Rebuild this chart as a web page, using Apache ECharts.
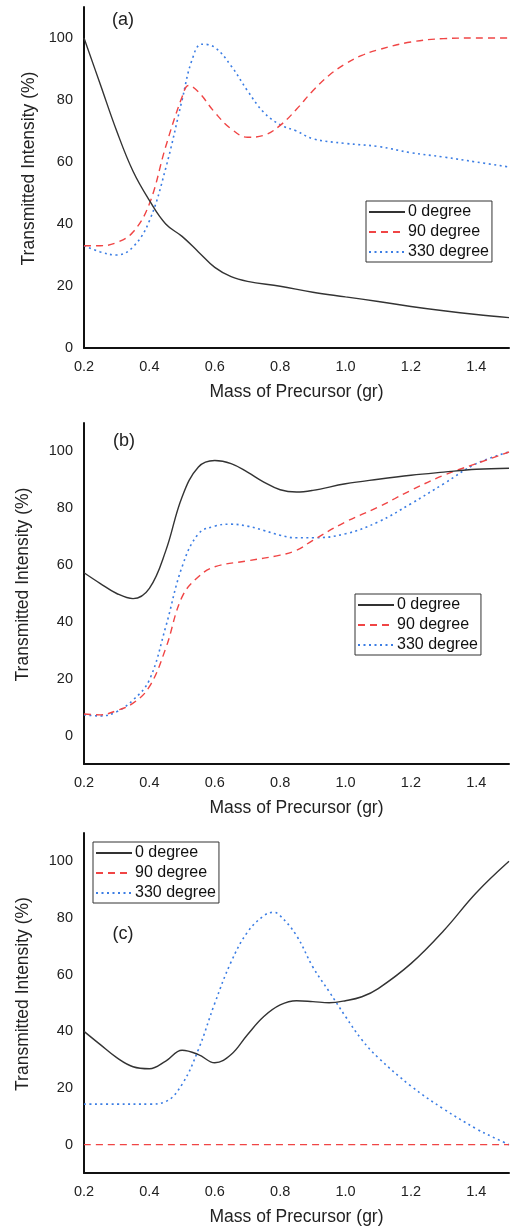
<!DOCTYPE html>
<html>
<head>
<meta charset="utf-8">
<script src="https://cdn.jsdelivr.net/npm/echarts@6/dist/echarts.min.js"></script>
<style>
  html, body { margin: 0; padding: 0; background: #fff; }
  #chart { width: 512px; height: 1227px; }
</style>
</head>
<body>
<div id="chart"></div>
<script>
// mass of precursor (gr) sample points
const massA0 = [0.2, 0.25, 0.3, 0.35, 0.4, 0.45, 0.5, 0.55, 0.6, 0.65, 0.7, 0.8, 0.9, 1.0, 1.1, 1.2, 1.3, 1.4, 1.5]
const intA0 = [100, 85, 70, 57, 47.6, 40, 36, 31, 26, 23, 21.5, 19.9, 18, 16.5, 15, 13.4, 12, 10.8, 9.8]
const massA90 = [0.2, 0.25, 0.3, 0.35, 0.4, 0.45, 0.5, 0.52, 0.55, 0.6, 0.65, 0.7, 0.75, 0.8, 0.85, 0.9, 0.95, 1.0, 1.05, 1.1, 1.2, 1.3, 1.4, 1.5]
const intA90 = [33, 33, 34, 37.4, 46.5, 65, 81, 84.7, 82.6, 76, 70.7, 68, 68.6, 71.8, 77, 83, 88, 91.7, 94.4, 96.2, 98.7, 99.8, 100, 100]
const massA330 = [0.2, 0.25, 0.3, 0.35, 0.4, 0.45, 0.5, 0.53, 0.56, 0.6, 0.65, 0.7, 0.75, 0.8, 0.85, 0.9, 1.0, 1.1, 1.2, 1.3, 1.4, 1.5]
const intA330 = [33, 31, 30, 32.6, 41, 58, 80, 92.8, 98, 97, 91, 83, 76, 72, 70, 67.5, 66, 65, 63, 61.6, 60, 58.4]

const massB0 = [0.2, 0.25, 0.3, 0.35, 0.4, 0.45, 0.5, 0.55, 0.6, 0.65, 0.7, 0.75, 0.8, 0.85, 0.9, 1.0, 1.1, 1.2, 1.3, 1.4, 1.5]
const intB0 = [57.3, 53.5, 50, 48.2, 51.8, 65, 84, 94.5, 96.8, 95.7, 92.7, 89.2, 86.5, 85.7, 86.3, 88.6, 90.2, 91.6, 92.7, 93.7, 94.1]
const massB90 = [0.2, 0.25, 0.3, 0.35, 0.4, 0.45, 0.5, 0.55, 0.6, 0.7, 0.8, 0.85, 0.9, 1.0, 1.1, 1.2, 1.3, 1.4, 1.5]
const intB90 = [7.6, 7.3, 8.8, 11.4, 17.2, 30.7, 48.8, 55.9, 59.4, 61.5, 63.5, 65.2, 68.7, 75.2, 80.4, 86.3, 91.6, 95.7, 99.8]
const massB330 = [0.2, 0.25, 0.3, 0.35, 0.4, 0.45, 0.5, 0.55, 0.6, 0.65, 0.7, 0.75, 0.8, 0.85, 0.9, 1.0, 1.1, 1.2, 1.3, 1.4, 1.5]
const intB330 = [7.3, 6.9, 8.4, 12.5, 19.6, 38.3, 59.4, 71, 73.7, 74.4, 73.7, 72.2, 70.5, 69.6, 69.6, 71, 75.2, 81.6, 88.6, 95.7, 99.8]

const massC0 = [0.2, 0.25, 0.3, 0.35, 0.4, 0.45, 0.5, 0.55, 0.6, 0.65, 0.7, 0.75, 0.8, 0.85, 0.9, 0.95, 1.0, 1.05, 1.1, 1.2, 1.3, 1.4, 1.5]
const intC0 = [40, 35.3, 30.7, 27.5, 26.8, 29.5, 33.3, 31.8, 28.9, 31.8, 38.8, 45.2, 49.3, 50.8, 50.5, 50.1, 50.8, 52.2, 55.1, 63.9, 75.5, 88.9, 100]
const massC90 = [0.2, 1.5]
const intC90 = [0, 0]
const massC330 = [0.2, 0.3, 0.4, 0.45, 0.5, 0.55, 0.6, 0.65, 0.7, 0.75, 0.78, 0.8, 0.85, 0.9, 0.95, 1.0, 1.05, 1.1, 1.2, 1.3, 1.4, 1.45, 1.5]
const intC330 = [14.3, 14.3, 14.3, 15.2, 21.3, 33.6, 49.9, 64.5, 75, 80.8, 82, 80.8, 73.8, 62.7, 54, 45.2, 37, 30.7, 20.7, 12.6, 5.6, 2.7, 0]

const legendNames = ['0 degree', '90 degree', '330 degree']
const panelLabels = ['(a)', '(b)', '(c)']
const xTicks = [0.2, 0.4, 0.6, 0.8, 1.0, 1.2, 1.4]
const yTicks = [0, 20, 40, 60, 80, 100]

const FONT = 'Arial, "Liberation Sans", sans-serif'
const gridTops = [7, 423, 833]
const gridHeight = 341
const yMins = [0, -10, -10]
const yNameGaps = [44, 52, 52]
const legendPos = [
  { left: 366, top: 201 },
  { left: 355, top: 594 },
  { left: 93, top: 842 }
]
const labelPos = [[123, 20], [124, 441], [123, 934]]

const styles = [
  { color: '#333333', type: 'solid', width: 1.4 },
  { color: '#f04545', type: [7, 5], width: 1.4 },
  { color: '#3b7de4', type: [2, 3.5], width: 1.6 }
]

const panels = [
  [[massA0, intA0], [massA90, intA90], [massA330, intA330]],
  [[massB0, intB0], [massB90, intB90], [massB330, intB330]],
  [[massC0, intC0], [massC90, intC90], [massC330, intC330]]
]

function pairs(xs, ys) {
  return xs.map((x, i) => [x, ys[i]])
}

const near = (v, list) => list.some(t => Math.abs(t - v) < 1e-6)

const grid = []
const xAxis = []
const yAxis = []
const series = []
const legend = []
const graphic = []

panels.forEach((panel, p) => {
  grid.push({ left: 84, right: 3, top: gridTops[p], height: gridHeight })
  xAxis.push({
    type: 'value',
    gridIndex: p,
    min: 0.2,
    max: 1.5,
    interval: 0.1,
    name: 'Mass of Precursor (gr)',
    nameLocation: 'middle',
    nameGap: 35,
    nameTextStyle: { fontFamily: FONT, fontSize: 17.5, color: '#222' },
    axisLine: { onZero: false, lineStyle: { color: '#111', width: 2 } },
    axisTick: { show: false },
    splitLine: { show: false },
    axisLabel: {
      fontFamily: FONT,
      fontSize: 14.5,
      color: '#222',
      margin: 11,
      formatter: v => near(v, xTicks) ? v.toFixed(1) : ''
    }
  })
  yAxis.push({
    type: 'value',
    gridIndex: p,
    min: yMins[p],
    max: 110,
    interval: 10,
    name: 'Transmitted Intensity (%)',
    nameLocation: 'middle',
    nameGap: yNameGaps[p],
    nameTextStyle: { fontFamily: FONT, fontSize: 17.5, color: '#222', padding: [0, 0, 0, 18] },
    axisLine: { show: true, onZero: false, lineStyle: { color: '#111', width: 2 } },
    axisTick: { show: false },
    splitLine: { show: false },
    axisLabel: {
      fontFamily: FONT,
      fontSize: 14.5,
      color: '#222',
      margin: 11,
      formatter: v => near(v, yTicks) ? String(Math.round(v)) : ''
    }
  })
  panel.forEach((pt, s) => {
    series.push({
      name: legendNames[s],
      type: 'line',
      xAxisIndex: p,
      yAxisIndex: p,
      data: pairs(pt[0], pt[1]),
      smooth: 0.4,
      symbol: 'none',
      color: styles[s].color,
      lineStyle: { color: styles[s].color, type: styles[s].type, width: styles[s].width },
      z: 3 - s,
      animation: false
    })
  })
  legend.push({
    data: legendNames,
    orient: 'vertical',
    left: legendPos[p].left,
    top: legendPos[p].top,
    itemWidth: 36,
    itemHeight: 14,
    itemGap: 4,
    padding: [3, 3, 2, 2],
    borderColor: '#333',
    borderWidth: 1,
    borderRadius: 0,
    selectedMode: false,
    itemStyle: { opacity: 0 },
    textStyle: { fontFamily: FONT, fontSize: 16, color: '#111', padding: [0, 0, 0, -2] }
  })
  graphic.push({
    type: 'text',
    x: labelPos[p][0],
    y: labelPos[p][1],
    style: {
      text: panelLabels[p],
      font: '18px ' + FONT,
      fill: '#222',
      align: 'center',
      verticalAlign: 'middle'
    }
  })
})

const chart = echarts.init(document.getElementById('chart'), null, { renderer: 'canvas' })
chart.setOption({
  backgroundColor: '#fff',
  animation: false,
  grid,
  xAxis,
  yAxis,
  legend,
  graphic,
  series
})
</script>
</body>
</html>
